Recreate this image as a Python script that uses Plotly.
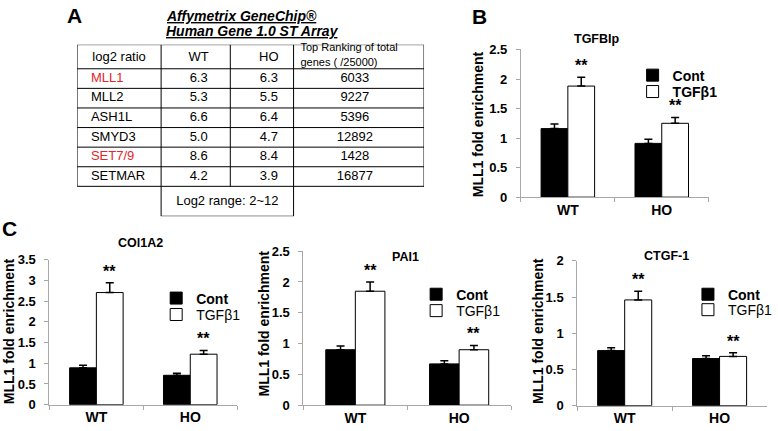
import plotly.graph_objects as go

W, H = 778, 431
FONT = "Arial, Liberation Sans, sans-serif"

# ---------------- data ----------------
groups = ["WT", "HO"]

genes = ["MLL1", "MLL2", "ASH1L", "SMYD3", "SET7/9", "SETMAR"]
wt_log2 = ["6.3", "5.3", "6.6", "5.0", "8.6", "4.2"]
ho_log2 = ["6.3", "5.5", "6.4", "4.7", "8.4", "3.9"]
top_rank = ["6033", "9227", "5396", "12892", "1428", "16877"]
highlighted_genes = ["MLL1", "SET7/9"]
table_header = ["log2 ratio", "WT", "HO", "Top Ranking of total<br>genes ( /25000)"]
log2_range_note = "Log2 range: 2~12"

tgfbip_cont = [1.16, 0.91]
tgfbip_cont_err = [0.08, 0.07]
tgfbip_tgf = [1.88, 1.25]
tgfbip_tgf_err = [0.15, 0.10]

col1a2_cont = [0.89, 0.71]
col1a2_cont_err = [0.06, 0.05]
col1a2_tgf = [2.71, 1.22]
col1a2_tgf_err = [0.24, 0.09]

pai1_cont = [0.90, 0.67]
pai1_cont_err = [0.06, 0.05]
pai1_tgf = [1.85, 0.90]
pai1_tgf_err = [0.15, 0.07]

ctgf_cont = [0.76, 0.65]
ctgf_cont_err = [0.04, 0.04]
ctgf_tgf = [1.46, 0.68]
ctgf_tgf_err = [0.12, 0.05]

signif = ["**", "**"]

# --------------- helpers ---------------
def X(px):
    return px / W

def Y(py):
    return 1 - py / H

BARGAP = 0.43

panels = [
    dict(name="TGFBIp", cont=tgfbip_cont, cerr=tgfbip_cont_err, tgf=tgfbip_tgf, terr=tgfbip_tgf_err,
         xdom=(527, 717), ytop=44, ybot=197, ymax=2.5, title_xy=(603, 33), ytitle_xy=(483, 121),
         leg_icon=(660, 71, 88), tgf_bold=True),
    dict(name="COl1A2", cont=col1a2_cont, cerr=col1a2_cont_err, tgf=col1a2_tgf, terr=col1a2_tgf_err,
         xdom=(50, 240), ytop=262, ybot=412, ymax=3.5, title_xy=(142, 245), ytitle_xy=(9, 336),
         leg_icon=(178, 302, 319), tgf_bold=False),
    dict(name="PAI1", cont=pai1_cont, cerr=pai1_cont_err, tgf=pai1_tgf, terr=pai1_tgf_err,
         xdom=(307, 517), ytop=253, ybot=412.5, ymax=2.5, title_xy=(410, 259), ytitle_xy=(267, 328),
         leg_icon=(441, 298, 315), tgf_bold=False),
    dict(name="CTGF-1", cont=ctgf_cont, cerr=ctgf_cont_err, tgf=ctgf_tgf, terr=ctgf_tgf_err,
         xdom=(584, 776), ytop=263, ybot=413, ymax=2.0, title_xy=(674, 258), ytitle_xy=(545, 336),
         leg_icon=(716, 298, 314), tgf_bold=False),
]

fig = go.Figure()
annotations = []
layout_extra = {}

# ---------------- table (panel A) drawn on its own hidden axes ----------------
col_edges = [0, 85, 155, 219, 351]          # table units (px-like)
header_h, row_h = 25, 20.3
n = len(genes)
row_edges = [0, header_h] + [header_h + row_h * (k + 1) for k in range(n)]
table_bottom = row_edges[-1]
note_bottom = table_bottom + 31
col_nudge = [0, 3, 7, -4]

lx, ly = [], []
for ye in row_edges:
    lx += [col_edges[0], col_edges[-1], None]
    ly += [ye, ye, None]
for xe in col_edges:
    lx += [xe, xe, None]
    ly += [0, table_bottom, None]
# "Log2 range" box under WT / HO columns
lx += [col_edges[1], col_edges[1], col_edges[3], col_edges[3], None]
ly += [table_bottom, note_bottom, note_bottom, table_bottom, None]

fig.add_trace(go.Scatter(x=lx, y=ly, mode="lines", line=dict(color="black", width=1),
                         xaxis="x5", yaxis="y5", hoverinfo="skip", showlegend=False,
                         cliponaxis=False))

centers = [(col_edges[c] + col_edges[c + 1]) / 2 + col_nudge[c] for c in range(4)]
row_centers = [header_h + row_h * (k + 0.5) for k in range(n)]

# header
fig.add_trace(go.Scatter(x=centers[:3], y=[header_h / 2 + 1] * 3, mode="text", text=table_header[:3],
                         textposition="middle center", xaxis="x5", yaxis="y5", hoverinfo="skip",
                         showlegend=False, cliponaxis=False,
                         textfont=dict(family=FONT, size=13, color="black")))
fig.add_trace(go.Scatter(x=[col_edges[3] + 7], y=[header_h / 2 - 1], mode="text", text=[table_header[3]],
                         textposition="middle right", xaxis="x5", yaxis="y5", hoverinfo="skip",
                         showlegend=False, cliponaxis=False,
                         textfont=dict(family=FONT, size=11, color="black")))
# body
name_colors = ["#e3262d" if g in highlighted_genes else "black" for g in genes]
fig.add_trace(go.Scatter(x=[col_edges[0] + 14] * n, y=row_centers, mode="text", text=genes,
                         textposition="middle right", xaxis="x5", yaxis="y5", hoverinfo="skip",
                         showlegend=False, cliponaxis=False,
                         textfont=dict(family=FONT, size=13, color=name_colors)))
for c, vals in [(1, wt_log2), (2, ho_log2), (3, top_rank)]:
    fig.add_trace(go.Scatter(x=[centers[c]] * n, y=row_centers, mode="text", text=vals,
                             textposition="middle center", xaxis="x5", yaxis="y5", hoverinfo="skip",
                             showlegend=False, cliponaxis=False,
                             textfont=dict(family=FONT, size=13, color="black")))
fig.add_trace(go.Scatter(x=[(col_edges[1] + col_edges[3]) / 2], y=[(table_bottom + note_bottom) / 2],
                         mode="text", text=[log2_range_note], textposition="middle center",
                         xaxis="x5", yaxis="y5", hoverinfo="skip", showlegend=False, cliponaxis=False,
                         textfont=dict(family=FONT, size=13, color="black")))

layout_extra["xaxis5"] = dict(domain=[X(78), X(429)], range=[col_edges[0], col_edges[-1]],
                              anchor="y5", visible=False, fixedrange=True)
layout_extra["yaxis5"] = dict(domain=[Y(39 + note_bottom), Y(39)], range=[note_bottom, 0],
                              anchor="x5", visible=False, fixedrange=True)

annotations.append(dict(text="<b><i><u>Affymetrix GeneChip®</u></i></b>", xref="paper", yref="paper",
                        x=X(166), y=Y(9), xanchor="left", yanchor="middle", showarrow=False,
                        font=dict(family=FONT, size=14, color="black")))
annotations.append(dict(text="<b><i><u>Human Gene 1.0 ST Array</u></i></b>", xref="paper", yref="paper",
                        x=X(166), y=Y(25), xanchor="left", yanchor="middle", showarrow=False,
                        font=dict(family=FONT, size=14, color="black")))
for letter, (px_, py_) in zip(["A", "B", "C"], [(75, 9), (485, 10), (10, 230)]):
    annotations.append(dict(text=f"<b>{letter}</b>", xref="paper", yref="paper", x=X(px_), y=Y(py_),
                            xanchor="center", yanchor="middle", showarrow=False,
                            font=dict(family=FONT, size=21, color="black")))

# ---------------- bar panels ----------------
AX_GRAY = "#a8a8a8"
leg_idx = 1
for i, p in enumerate(panels):
    suffix = "" if i == 0 else str(i + 1)
    xa, ya = "x" + suffix, "y" + suffix
    lc = "legend" if leg_idx == 1 else f"legend{leg_idx}"
    lt = f"legend{leg_idx + 1}"
    leg_idx += 2

    fig.add_trace(go.Bar(x=groups, y=p["cont"], name="Cont", xaxis=xa, yaxis=ya, legend=lc,
                         marker=dict(color="black", line=dict(color="black", width=1)),
                         error_y=dict(type="data", array=p["cerr"], arrayminus=[0] * len(groups),
                                      symmetric=False, color="black", thickness=1.5, width=4)))
    fig.add_trace(go.Bar(x=groups, y=p["tgf"], name="TGFβ1", xaxis=xa, yaxis=ya, legend=lt,
                         marker=dict(color="white", line=dict(color="black", width=1)),
                         error_y=dict(type="data", array=p["terr"], arrayminus=[0] * len(groups),
                                      symmetric=False, color="black", thickness=1.5, width=4)))

    x0, x1 = p["xdom"]
    layout_extra["xaxis" + suffix] = dict(
        domain=[X(x0), X(x1)], anchor=ya, type="category", range=[-0.5, 1.5],
        showline=True, linecolor=AX_GRAY, linewidth=1, ticks="outside", tickson="boundaries",
        ticklen=4, tickcolor=AX_GRAY, showgrid=False, zeroline=False, fixedrange=True,
        tickfont=dict(family=FONT, size=14, color="black", weight="bold"))
    layout_extra["yaxis" + suffix] = dict(
        domain=[Y(p["ybot"]), Y(p["ytop"])], anchor=xa, range=[0, p["ymax"]], dtick=0.5,
        showline=True, linecolor=AX_GRAY, linewidth=1, ticks="outside", ticklen=4,
        tickcolor=AX_GRAY, showgrid=False, zeroline=False, fixedrange=True, ticklabelstandoff=6,
        tickfont=dict(family=FONT, size=13, color="black", weight="bold"))

    # legends (one per item so that rows sit where the reference has them)
    icx, r1, r2 = p["leg_icon"]
    for lname, ry, bold in [(lc, r1, True), (lt, r2, p["tgf_bold"])]:
        layout_extra[lname] = dict(
            x=X(icx - 20), y=Y(ry), xanchor="left", yanchor="middle", bgcolor="rgba(0,0,0,0)",
            borderwidth=0, itemwidth=30,
            font=dict(family=FONT, size=14, color="black", weight="bold" if bold else "normal"))

    # titles
    tx, ty = p["title_xy"]
    annotations.append(dict(text=f"<b>{p['name']}</b>", xref="paper", yref="paper", x=X(tx), y=Y(ty),
                            xanchor="center", yanchor="middle", showarrow=False,
                            font=dict(family=FONT, size=12.5, color="black")))
    yx, yy = p["ytitle_xy"]
    annotations.append(dict(text="<b>MLL1 fold enrichment</b>", xref="paper", yref="paper",
                            x=X(yx), y=Y(yy), xanchor="center", yanchor="middle", textangle=-90,
                            showarrow=False, font=dict(family=FONT, size=14, color="black")))
    # significance stars above TGFβ1 bars
    off = (1 - BARGAP) / 4
    for j, g in enumerate(groups):
        annotations.append(dict(text=f"<b>{signif[j]}</b>", xref=xa, yref=ya, x=j + off,
                                y=p["tgf"][j] + p["terr"][j], xanchor="center", yanchor="bottom",
                                showarrow=False, yshift=1,
                                font=dict(family=FONT, size=16, color="black")))

fig.update_layout(
    width=W, height=H, margin=dict(l=0, r=0, t=0, b=0),
    paper_bgcolor="white", plot_bgcolor="white",
    barmode="group", bargap=BARGAP, bargroupgap=0,
    annotations=annotations, showlegend=True,
    font=dict(family=FONT, color="black"),
    **layout_extra,
)

fig.write_html("out.html", config={"displayModeBar": False},
               post_script="document.body.style.margin='0px';")
